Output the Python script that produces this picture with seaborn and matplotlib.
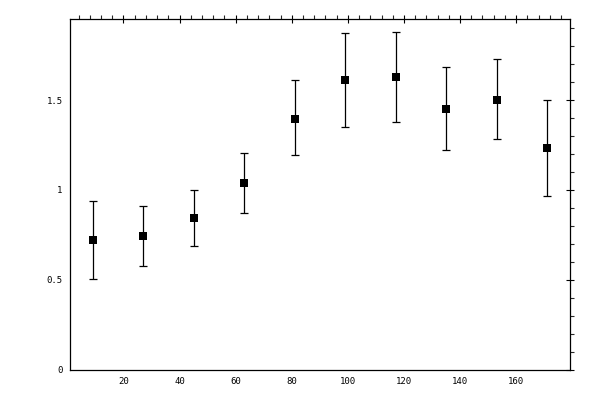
import numpy as np
import pandas as pd
import matplotlib
matplotlib.use("Agg")
import matplotlib.pyplot as plt
from matplotlib.ticker import MultipleLocator
import seaborn as sns

# ============================================================================
# DATA
# ============================================================================

x_vals = [9, 27, 45, 63, 81, 99, 117, 135, 153, 171]
y_vals = [0.72, 0.744, 0.844, 1.039, 1.397, 1.613, 1.630, 1.452, 1.503, 1.234]
err_low = [0.217, 0.168, 0.156, 0.167, 0.202, 0.262, 0.251, 0.229, 0.219, 0.268]
err_high = [0.216, 0.167, 0.156, 0.165, 0.216, 0.262, 0.251, 0.234, 0.228, 0.269]

x_ticks = [20, 40, 60, 80, 100, 120, 140, 160]
y_ticks = [0, 0.5, 1, 1.5]
y_tick_labels = ["0", "0.5", "1", "1.5"]

# ============================================================================
# PLOT
# ============================================================================

sns.set_style("white")
plt.rcParams['font.family'] = ['DejaVu Sans Mono', 'DejaVu Sans']

df = pd.DataFrame({'x': x_vals, 'y': y_vals})

fig = plt.figure(figsize=(6, 4), dpi=100)
ax = fig.add_axes([0.116, 0.076, 0.834, 0.876])

ax.errorbar(df['x'], df['y'], yerr=[err_low, err_high], fmt='none',
            ecolor='black', elinewidth=0.9, capsize=2.8, capthick=0.9, zorder=2)
sns.scatterplot(data=df, x='x', y='y', marker='s', s=30, color='black',
                edgecolor='black', linewidth=0, ax=ax, zorder=3)

ax.set_xlim(0.8, 179.2)
ax.set_ylim(0, 1.951)

ax.set_xticks(x_ticks)
ax.set_xticklabels([str(t) for t in x_ticks])
ax.set_yticks(y_ticks)
ax.set_yticklabels(y_tick_labels)
ax.xaxis.set_minor_locator(MultipleLocator(4))
ax.yaxis.set_minor_locator(MultipleLocator(0.1))

ax.tick_params(which='major', direction='inout', length=6, width=0.8,
               top=True, right=True, labelsize=6.5, pad=2, colors='black')
ax.tick_params(which='minor', direction='out', length=2.6, width=0.8,
               top=True, right=True)

for sp in ax.spines.values():
    sp.set_visible(True)
    sp.set_color('black')
    sp.set_linewidth(0.9)

ax.set_xlabel('')
ax.set_ylabel('')

plt.savefig('out.png', dpi=100)
